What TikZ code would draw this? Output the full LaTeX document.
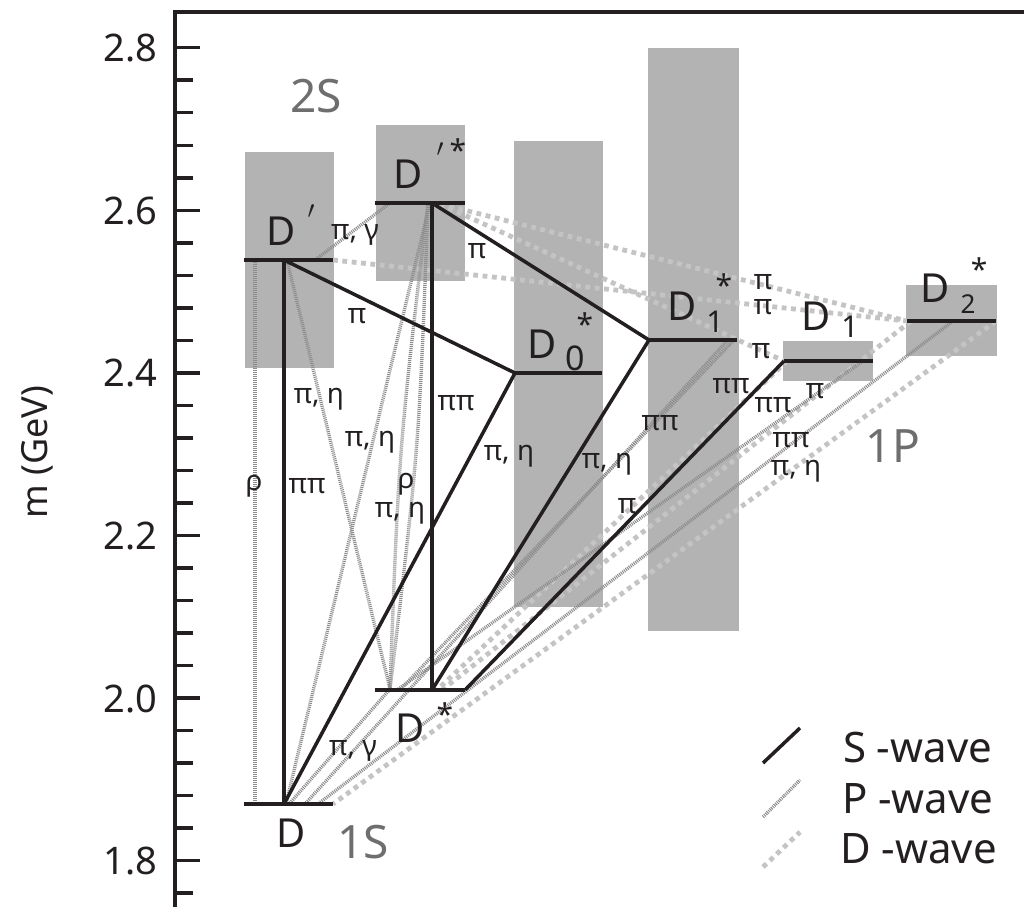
\documentclass[tikz,border=0pt]{standalone}
\usepackage{fontspec}
\setmainfont{Noto Sans}
\definecolor{boxgrey}{RGB}{179,179,179}
\definecolor{ink}{RGB}{35,31,32}
\definecolor{pgrey}{RGB}{140,140,140}
\definecolor{dgrey}{RGB}{196,196,196}
\definecolor{bandgrey}{RGB}{110,110,110}
\begin{document}
\begin{tikzpicture}[x=1pt,y=-1pt,
  every node/.style={inner sep=0pt, outer sep=0pt, text=ink},
  axisline/.style={line width=4pt, draw=ink, line join=miter},
  bigtick/.style={line width=3.5pt, draw=ink},
  levelline/.style={line width=4.5pt, draw=ink},
  swave/.style={line width=3.5pt, draw=ink},
  pwave/.style={line width=3.4pt, draw=pgrey, dash pattern=on 1pt off 1pt},
  dwave/.style={line width=4.8pt, draw=dgrey, dash pattern=on 4.8pt off 4.6pt},
  mbox/.style={fill=boxgrey},
  ticklab/.style={font=\fontsize{38}{40}\selectfont, anchor=base east},
  meson/.style={font=\fontsize{40}{40}\selectfont, anchor=base},
  supstar/.style={font=\fontsize{30}{30}\selectfont, anchor=base},
  primelab/.style={font=\fontsize{26}{26}\selectfont, anchor=center},
  lbl/.style={font=\fontsize{28}{30}\selectfont, anchor=base},
  bandlab/.style={font=\fontsize{46}{48}\selectfont, text=bandgrey, anchor=base},
  leglab/.style={font=\fontsize{42}{44}\selectfont, anchor=base west}]
\useasboundingbox (0,0) rectangle (1024,907);
\fill[white] (0,0) rectangle (1024,907);

% mass-range boxes
\fill[mbox] (245,152) rectangle (334,368);
\fill[mbox] (376,125) rectangle (465,281);
\fill[mbox] (514,141) rectangle (603,607);
\fill[mbox] (648,48) rectangle (739,631);
\fill[mbox] (783,341) rectangle (873,381);
\fill[mbox] (906,285) rectangle (997,356);

% axis
\draw[axisline] (175,907) -- (175,12) -- (1024,12);
\foreach \i in {0,...,26} {
  \pgfmathsetmacro\yy{47.7+\i*32.52}
  \pgfmathtruncatemacro\rr{mod(\i,5)}
  \ifnum\rr=0
    \draw[bigtick] (175,\yy) -- (200,\yy);
  \else
    \draw[bigtick] (175,\yy) -- (193,\yy);
  \fi
}
\node[ticklab] (t28) at (157,61) {2.8};
\node[ticklab] (t26) at (157,224) {2.6};
\node[ticklab] (t24) at (157,386) {2.4};
\node[ticklab] (t22) at (157,549) {2.2};
\node[ticklab] (t20) at (157,712) {2.0};
\node[ticklab] (t18) at (157,874) {1.8};
\node[font=\fontsize{36}{38}\selectfont, rotate=90, anchor=base] (ylab) at (47,452) {m (GeV)};

% level coordinates
\coordinate (Dp-l) at (244,260); \coordinate (Dp-r) at (333,260);
\coordinate (Dp-v) at (284,260); \coordinate (Dp-rho) at (255,260);
\coordinate (Dp-pg) at (315,260); \coordinate (Dp-pe) at (287,260);
\coordinate (Dps-l) at (375,203); \coordinate (Dps-r) at (465,203);
\coordinate (Dps-v) at (432,203); \coordinate (Dps-g) at (390,203);
\coordinate (Dps-pe) at (428,203); \coordinate (Dps-pd) at (430,203);
\coordinate (Dps-dw) at (440,204);
\coordinate (D0s-l) at (515,373); \coordinate (D0s-r) at (602,373);
\coordinate (D1s-l) at (649,340); \coordinate (D1s-r) at (737,340);
\coordinate (D1s-p1) at (727,341); \coordinate (D1s-p2) at (733,341);
\coordinate (D1-l) at (784,361); \coordinate (D1-r) at (873,361);
\coordinate (D1-d) at (787,361); \coordinate (D1-p5) at (863,361);
\coordinate (D2s-l) at (907,321); \coordinate (D2s-r) at (996,321);
\coordinate (D2s-d) at (911,321); \coordinate (D2s-p3) at (953,321);
\coordinate (Ds-l) at (375,690); \coordinate (Ds-r) at (465,690);
\coordinate (Ds-v) at (432,690); \coordinate (Ds-pe) at (390,689);
\coordinate (Ds-d1) at (437,690); \coordinate (Ds-d2) at (442,690);
\coordinate (Ds-p2) at (400,690); \coordinate (Ds-p5) at (397,690);
\coordinate (D-l) at (244,804); \coordinate (D-r) at (333,804);
\coordinate (D-v) at (284,804); \coordinate (D-rho) at (255,804);
\coordinate (D-pd) at (286,804); \coordinate (D-pg) at (290,803);
\coordinate (D-p1) at (305,804); \coordinate (D-p3) at (318,804);

% D-wave transitions
\draw[dwave] (Dps-dw) -- (D2s-l);
\draw[dwave] (Dp-r) -- (D2s-l);
\draw[dwave] (Dps-dw) -- (D1-l);
\draw[dwave] (D1-d) -- (Ds-d1);
\draw[dwave] (D2s-d) -- (Ds-d2);
\draw[dwave] (D2s-r) -- (D-r);

% P-wave transitions
\draw[pwave] (Dp-rho) -- (D-rho);
\draw[pwave] (Dp-pg) -- (Dps-g);
\draw[pwave] (Dp-pe) -- (Ds-pe);
\draw[pwave] (Dps-pd) -- (D-pd);
\draw[pwave] (Dps-pe) .. controls (399,447) .. (Ds-pe);
\draw[pwave] (Dps-pe) .. controls (419,447) .. (Ds-pe);
\draw[pwave] (D-pg) -- (Ds-pe);
\draw[pwave] (D1s-p1) -- (D-p1);
\draw[pwave] (D1s-p2) -- (Ds-p2);
\draw[pwave] (D1-p5) -- (Ds-p5);
\draw[pwave] (D2s-p3) -- (D-p3);

% S-wave transitions
\draw[swave] (Dp-v) -- (D-v);
\draw[swave] (Dp-v) -- (D0s-l);
\draw[swave] (Dps-v) -- (Ds-v);
\draw[swave] (Dps-v) -- (D1s-l);
\draw[swave] (D0s-l) -- (D-v);
\draw[swave] (D1s-l) -- (Ds-v);
\draw[swave] (D1-l) -- (Ds-r);

% levels
\draw[levelline] (Dp-l) -- (Dp-r);
\draw[levelline] (Dps-l) -- (Dps-r);
\draw[levelline] (D0s-l) -- (D0s-r);
\draw[levelline] (D1s-l) -- (D1s-r);
\draw[levelline] (D1-l) -- (D1-r);
\draw[levelline] (D2s-l) -- (D2s-r);
\draw[levelline] (Ds-l) -- (Ds-r);
\draw[levelline] (D-l) -- (D-r);

% meson names
\node[meson] (nDp) at (281,245) {D};
\node[primelab] (nDpp) at (311,212) {$\prime$};
\node[meson] (nDps) at (408,188) {D};
\node[primelab] (nDpsp) at (440,150) {$\prime$};
\node[supstar] (nDpss) at (458,161) {*};
\node[meson] (nD0) at (542,358) {D};
\node[font=\fontsize{34}{34}\selectfont, anchor=base] (nD0i) at (575,370) {0};
\node[supstar] (nD0s) at (585,335) {*};
\node[meson] (nD1s) at (682,320) {D};
\node[font=\fontsize{30}{30}\selectfont, anchor=base] (nD1si) at (715,332) {1};
\node[supstar] (nD1ss) at (724,296) {*};
\node[meson] (nD1) at (816,330) {D};
\node[font=\fontsize{30}{30}\selectfont, anchor=base] (nD1i) at (850,337) {1};
\node[meson] (nD2) at (935,302) {D};
\node[font=\fontsize{26}{26}\selectfont, anchor=base] (nD2i) at (968,313) {2};
\node[supstar] (nD2s) at (979,280) {*};
\node[meson] (nDs) at (410,742) {D};
\node[supstar] (nDss) at (445,725) {*};
\node[meson] (nD) at (291,847) {D};

% multiplet names
\node[bandlab] (b2S) at (316,112) {2S};
\node[bandlab] (b1S) at (363,858) {1S};
\node[bandlab] (b1P) at (893,462) {1P};

% transition labels
\node[lbl] (l1) at (355,239) {π, γ};
\node[lbl] (l2) at (357,323) {π};
\node[lbl] (l3) at (477,258) {π};
\node[lbl] (l4) at (319,403) {π, η};
\node[lbl] (l5) at (370,446) {π, η};
\node[lbl] (l6) at (254,490) {ρ};
\node[lbl] (l7) at (307,493) {ππ};
\node[lbl] (l8) at (406,488) {ρ};
\node[lbl] (l9) at (400,517) {π, η};
\node[lbl] (l10) at (456,410) {ππ};
\node[lbl] (l11) at (509,460) {π, η};
\node[lbl] (l12) at (607,468) {π, η};
\node[lbl] (l13) at (627,513) {π};
\node[lbl] (l14) at (660,430) {ππ};
\node[lbl] (l15) at (353,755) {π, γ};
\node[lbl] (l16) at (763,289) {π};
\node[lbl] (l17) at (763,314) {π};
\node[lbl] (l18) at (761,358) {π};
\node[lbl] (l19) at (731,393) {ππ};
\node[lbl] (l20) at (773,412) {ππ};
\node[lbl] (l21) at (815,398) {π};
\node[lbl] (l22) at (791,447) {ππ};
\node[lbl] (l23) at (796,475) {π, η};

% legend
\coordinate (lgS1) at (763,763); \coordinate (lgS2) at (800,728);
\coordinate (lgP1) at (763,817); \coordinate (lgP2) at (800,780);
\coordinate (lgD1) at (763,867); \coordinate (lgD2) at (800,832);
\draw[swave] (lgS1) -- (lgS2);
\draw[pwave] (lgP1) -- (lgP2);
\draw[dwave] (lgD1) -- (lgD2);
\node[leglab] (legS) at (843,762) {S -wave};
\node[leglab] (legP) at (842,813) {P -wave};
\node[leglab] (legD) at (840,863) {D -wave};
\end{tikzpicture}
\end{document}
